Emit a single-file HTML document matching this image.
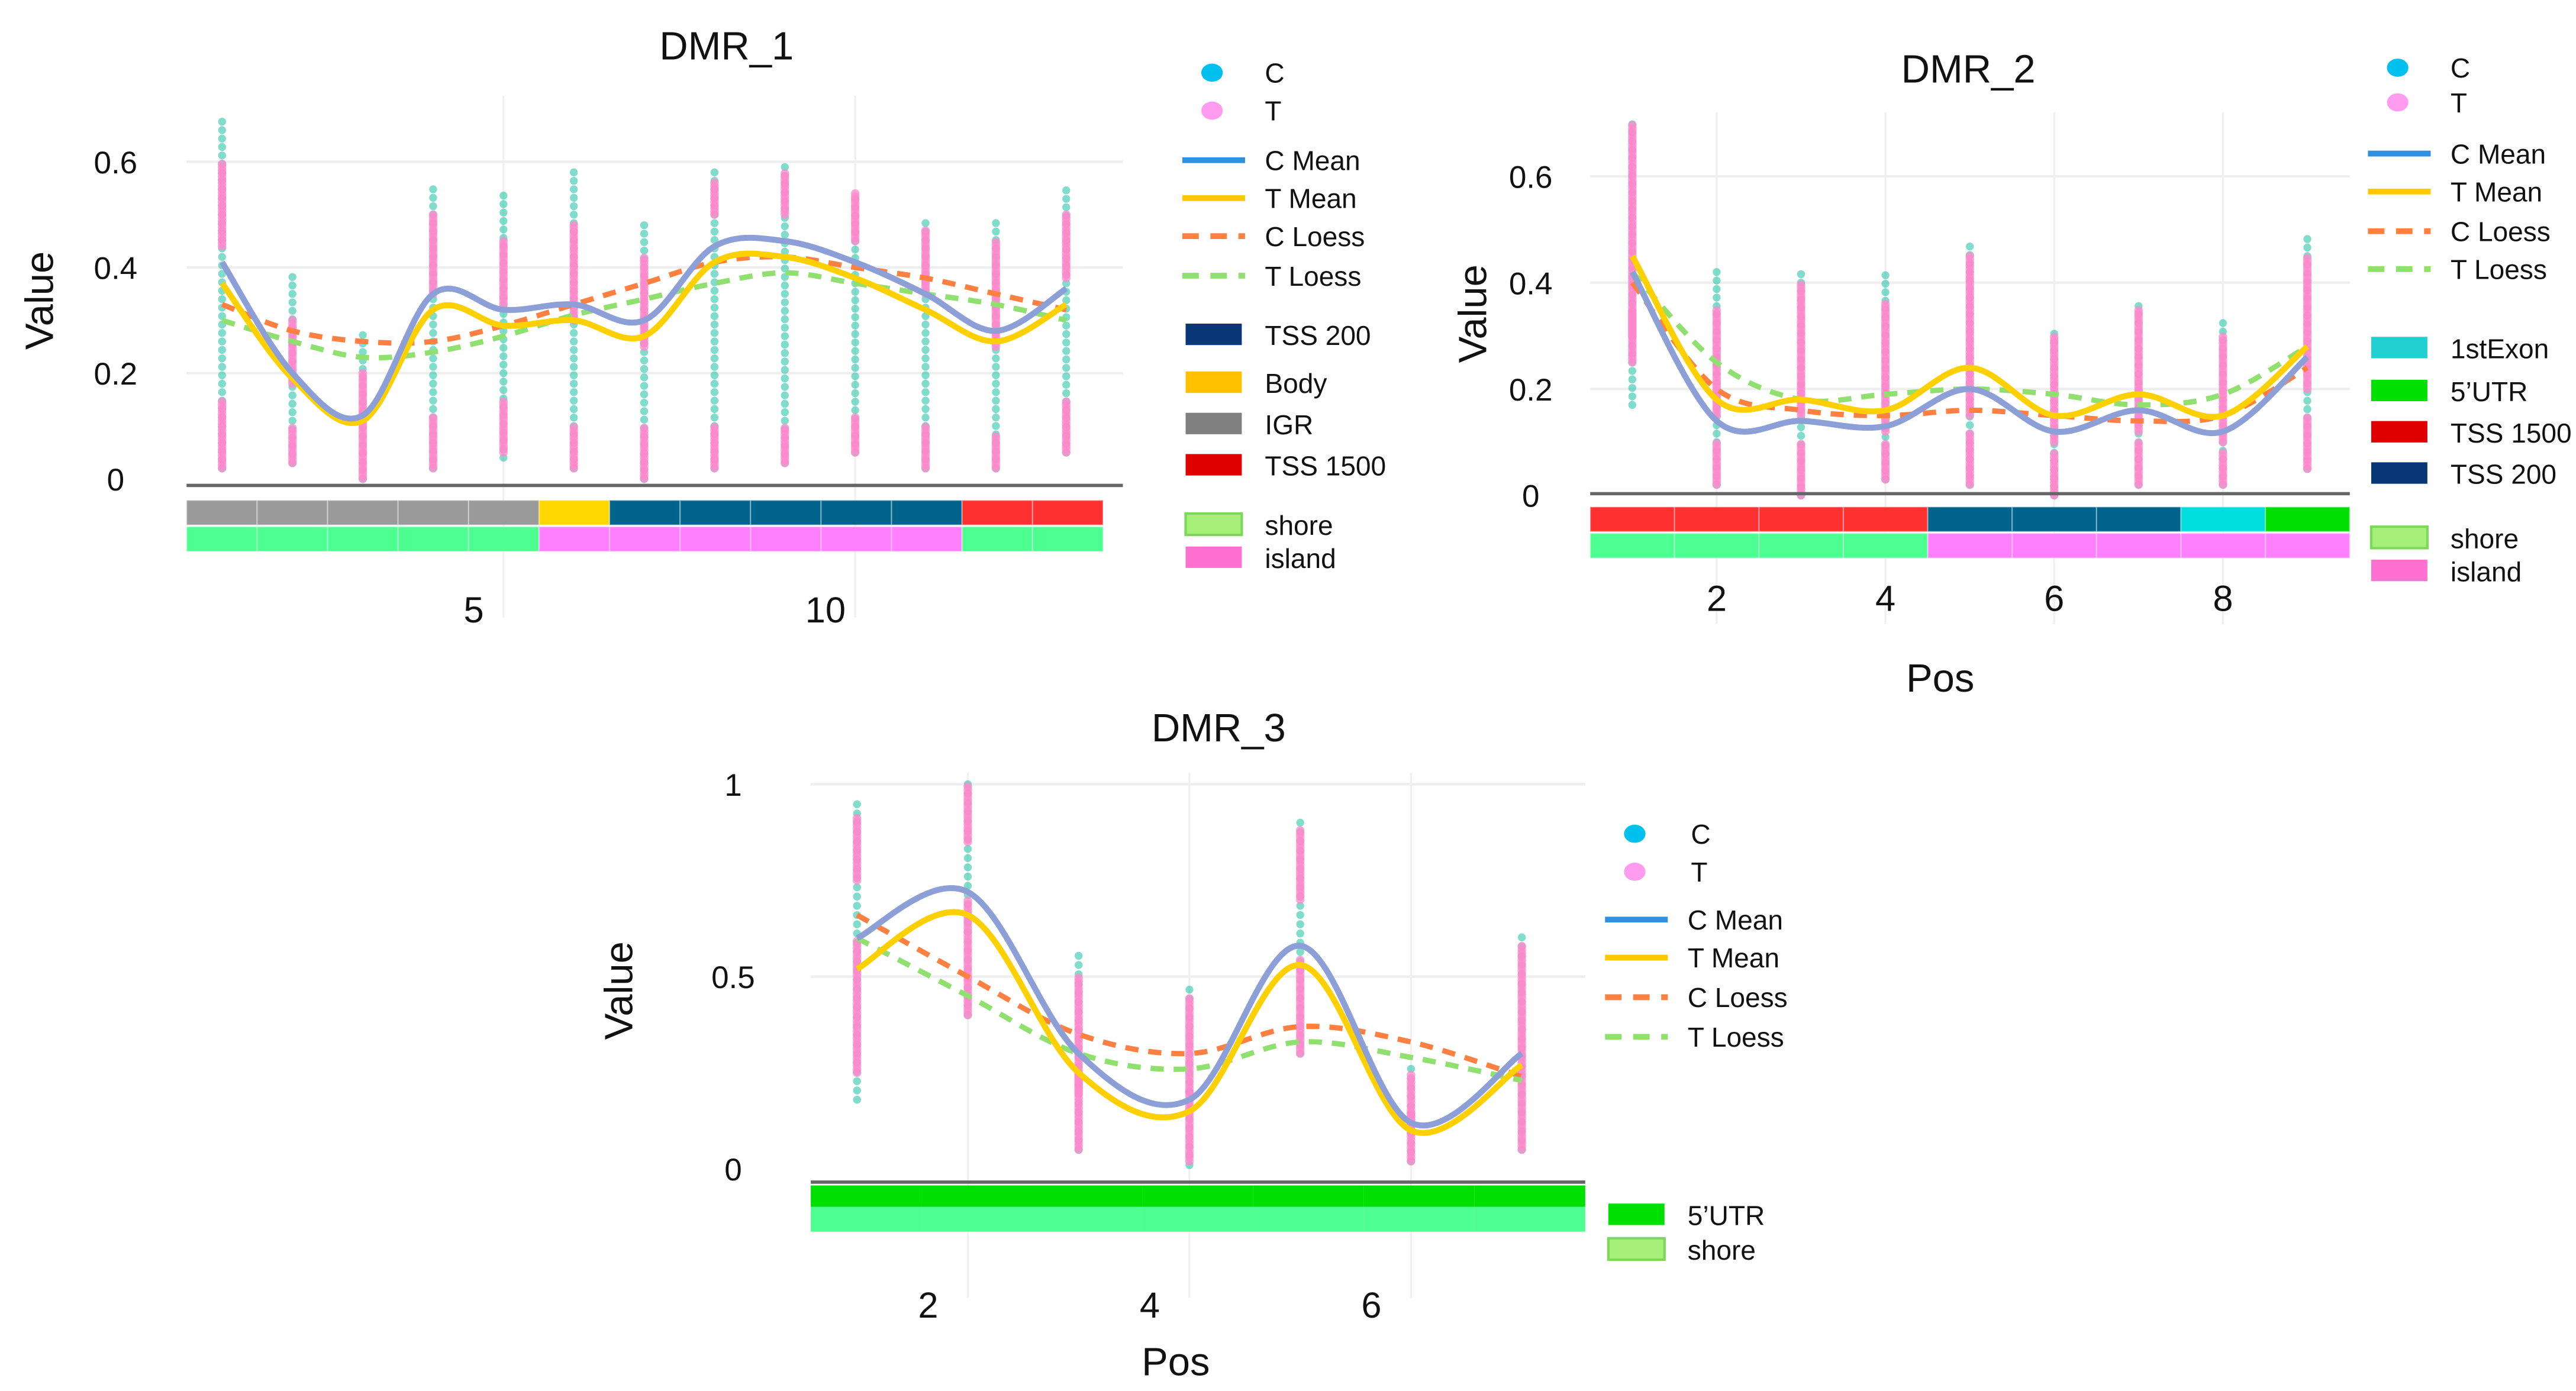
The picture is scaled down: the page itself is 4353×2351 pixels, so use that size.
<!DOCTYPE html>
<html><head><meta charset="utf-8"><style>
html,body{margin:0;padding:0;background:#fff;}
svg{display:block;font-family:"Liberation Sans",sans-serif;}
</style></head><body>
<svg id="fig" width="4353" height="2351" viewBox="0 0 1560 842.5" xmlns="http://www.w3.org/2000/svg">
<rect width="1560" height="842.5" fill="#fff"/>
</svg>
<script>
// ---------- DMR_1 data ----------
const d1Pos = [1,2,3,4,5,6,7,8,9,10,11,12,13];
const d1CMean = [0.41,0.20,0.12,0.35,0.32,0.33,0.30,0.44,0.45,0.41,0.35,0.28,0.36];
const d1TMean = [0.37,0.19,0.11,0.32,0.29,0.30,0.27,0.41,0.42,0.38,0.32,0.26,0.33];
const d1CLoess = [0.33,0.28,0.26,0.26,0.29,0.33,0.37,0.41,0.42,0.40,0.38,0.35,0.32];
const d1TLoess = [0.30,0.26,0.23,0.24,0.27,0.31,0.34,0.37,0.39,0.37,0.35,0.33,0.30];
const d1CMin = [0.02,0.03,0.00,0.02,0.04,0.02,0.00,0.02,0.03,0.05,0.02,0.02,0.05];
const d1CMax = [0.68,0.39,0.28,0.56,0.55,0.58,0.48,0.58,0.60,0.54,0.49,0.49,0.55];
const d1THiMin = [0.44,0.18,0.05,0.35,0.33,0.30,0.25,0.50,0.50,0.45,0.35,0.25,0.38];
const d1THiMax = [0.60,0.30,0.20,0.50,0.45,0.48,0.42,0.56,0.58,0.54,0.47,0.45,0.50];
const d1TLoMin = [0.02,0.03,0.00,0.02,0.05,0.02,0.00,0.02,0.03,0.05,0.02,0.02,0.05];
const d1TLoMax = [0.15,0.10,0.05,0.12,0.15,0.10,0.10,0.10,0.10,0.12,0.10,0.08,0.15];
const d1Ticks = [5,10];
const d1YTicks = [0,0.2,0.4,0.6];
const d1Row1 = ["IGR","IGR","IGR","IGR","IGR","Body","TSS200","TSS200","TSS200","TSS200","TSS200","TSS1500","TSS1500"];
const d1Row2 = ["shore","shore","shore","shore","shore","island","island","island","island","island","island","shore","shore"];

// ---------- DMR_2 data ----------
const d2Pos = [1,2,3,4,5,6,7,8,9];
const d2CMean = [0.42,0.14,0.14,0.13,0.20,0.12,0.16,0.12,0.26];
const d2TMean = [0.45,0.18,0.18,0.16,0.24,0.15,0.19,0.15,0.28];
const d2CLoess = [0.40,0.20,0.16,0.15,0.16,0.15,0.14,0.15,0.24];
const d2TLoess = [0.42,0.25,0.18,0.19,0.20,0.19,0.17,0.19,0.28];
const d2CMin = [0.17,0.02,0.00,0.03,0.02,0.00,0.02,0.02,0.05];
const d2CMax = [0.70,0.43,0.43,0.42,0.48,0.31,0.36,0.33,0.49];
const d2THiMin = [0.30,0.15,0.15,0.12,0.15,0.10,0.12,0.10,0.20];
const d2THiMax = [0.70,0.35,0.40,0.36,0.45,0.30,0.35,0.30,0.45];
const d2TLoMin = [0.25,0.02,0.00,0.03,0.02,0.00,0.02,0.02,0.05];
const d2TLoMax = [0.35,0.10,0.10,0.10,0.12,0.08,0.10,0.08,0.15];
const d2Ticks = [2,4,6,8];
const d2YTicks = [0,0.2,0.4,0.6];
const d2Row1 = ["TSS1500","TSS1500","TSS1500","TSS1500","TSS200","TSS200","TSS200","1stExon","5UTR"];
const d2Row2 = ["shore","shore","shore","shore","island","island","island","island","island"];

// ---------- DMR_3 data ----------
const d3Pos = [1,2,3,4,5,6,7];
const d3CMean = [0.60,0.72,0.30,0.18,0.58,0.12,0.30];
const d3TMean = [0.52,0.66,0.25,0.15,0.53,0.10,0.27];
const d3CLoess = [0.66,0.50,0.35,0.30,0.37,0.33,0.24];
const d3TLoess = [0.60,0.45,0.30,0.26,0.33,0.29,0.23];
const d3CMin = [0.18,0.40,0.05,0.01,0.30,0.02,0.05];
const d3CMax = [0.97,1.00,0.56,0.47,0.90,0.28,0.62];
const d3THiMin = [0.75,0.85,0.20,0.20,0.70,0.10,0.30];
const d3THiMax = [0.92,1.00,0.50,0.45,0.88,0.25,0.58];
const d3TLoMin = [0.25,0.40,0.05,0.02,0.30,0.02,0.05];
const d3TLoMax = [0.60,0.70,0.25,0.20,0.55,0.15,0.30];
const d3Ticks = [2,4,6];
const d3YTicks = [0,0.5,1];
const d3Row1 = ["5UTR","5UTR","5UTR","5UTR","5UTR","5UTR","5UTR"];
const d3Row2 = ["shore","shore","shore","shore","shore","shore","shore"];

const annoColors = {IGR:"#9a9a9a",Body:"#ffd700",TSS200:"#00648c",TSS1500:"#ff3030",shore:"#4cff90",island:"#ff80ff","1stExon":"#00dddd","5UTR":"#00e000"};

const NS = "http://www.w3.org/2000/svg";
const svg = document.getElementById('fig');
function mk(tag, attrs, parent){
  const e = document.createElementNS(NS, tag);
  for (const k in attrs) e.setAttribute(k, attrs[k]);
  (parent||svg).appendChild(e);
  return e;
}
function smooth(pts){
  let d = "M"+pts[0][0]+","+pts[0][1];
  for (let i=0;i<pts.length-1;i++){
    const p0=pts[Math.max(0,i-1)],p1=pts[i],p2=pts[i+1],p3=pts[Math.min(pts.length-1,i+2)];
    const c1=[p1[0]+(p2[0]-p0[0])/6,p1[1]+(p2[1]-p0[1])/6];
    const c2=[p2[0]-(p3[0]-p1[0])/6,p2[1]-(p3[1]-p1[1])/6];
    d+=" C"+c1[0]+","+c1[1]+" "+c2[0]+","+c2[1]+" "+p2[0]+","+p2[1];
  }
  return d;
}

function drawChart(c){
  const g = mk('g',{});
  
  
  const x = p => c.x0 + (p - 1) * c.dx;
  const y = v => c.y0 - v * c.ky;
  // title
  const t = mk('text',{x:c.titleX,y:c.titleY,'font-size':24,'text-anchor':'middle',fill:'#111'},g);
  t.textContent = c.title;
  
  
  // grid
  c.yTicks.forEach(v=>{
    if (v>0){ const l=mk('line',{x1:c.left,x2:c.right,y1:y(v),y2:y(v),stroke:'#eeeeee','stroke-width':1.5},g);
        }
    const tl = mk('text',{x:c.yLabX,y:y(v)+7,'font-size':19,'text-anchor':'middle',fill:'#111'},g);
    tl.textContent = String(v);
    
    
  });
  c.xTicks.forEach(p=>{
    const l=mk('line',{x1:x(p),x2:x(p),y1:c.gridTop,y2:c.annoBottom+40,stroke:'#f0f0f0','stroke-width':1.2},g);
     
    const tl = mk('text',{x:x(p)+c.xLabOff,y:c.xLabY,'font-size':22,'text-anchor':'middle',fill:'#111'},g);
    tl.textContent = String(p);
    
    
  });
  // y title
  const yt = mk('text',{x:c.yTitleX,y:c.yTitleY,'font-size':24,'text-anchor':'middle',fill:'#111',transform:`rotate(-90 ${c.yTitleX} ${c.yTitleY})`},g);
  yt.textContent='Value';
  
  
  if (c.xTitle){
    const xt = mk('text',{x:c.xTitleX,y:c.xTitleY,'font-size':24,'text-anchor':'middle',fill:'#111'},g);
    xt.textContent='Pos';
    
    
  }
  // points
  c.pos.forEach((p,i)=>{
    for (let v=c.cMin[i]; v<=c.cMax[i]+1e-9; v+=c.step*1.6){
      const d=mk('circle',{cx:x(p),cy:y(v),r:2.4,fill:'#2cc4a8','fill-opacity':0.6},g);
       
    }
    for (let v=c.tLoMin[i]; v<=c.tLoMax[i]+1e-9; v+=c.step*0.6){
      const d=mk('circle',{cx:x(p),cy:y(v),r:2.6,fill:'#ff88cc','fill-opacity':0.75},g);
       
    }
    for (let v=c.tHiMin[i]; v<=c.tHiMax[i]+1e-9; v+=c.step*0.6){
      const d=mk('circle',{cx:x(p),cy:y(v),r:2.6,fill:'#ff88cc','fill-opacity':0.75},g);
       
    }
  });
  // curves
  const series = [
    [c.cLoess,'#ff8040','8 6',3.2,'c-loess-line'],
    [c.tLoess,'#90e070','8 6',3.2,'t-loess-line'],
    [c.tMean,'#ffd000',null,3.6,'t-mean-line'],
    [c.cMean,'#8c9fd6',null,3.6,'c-mean-line']
  ];
  series.forEach(s=>{
    const pts = c.pos.map((p,i)=>[x(p),y(s[0][i])]);
    const a={d:smooth(pts),fill:'none',stroke:s[1],'stroke-width':s[3]};
    if (s[2]) a['stroke-dasharray']=s[2];
    const pth=mk('path',a,g);
     
  });
  // axis line
  const al = mk('line',{x1:c.left,x2:c.right,y1:c.axisY,y2:c.axisY,stroke:'#666','stroke-width':2},g);
   
  // annotation rows
  const n = c.pos.length, w = (c.annoRight-c.left)/n;
  [[c.row1,c.r1y,c.r1h],[c.row2,c.r2y,c.r2h]].forEach((r,ri)=>{
    r[0].forEach((k,i)=>{
      const rc=mk('rect',{x:c.left+i*w,y:r[1],width:w,height:r[2],fill:annoColors[k],stroke:c.cellStroke?'#ffffff':'none','stroke-opacity':0.35,'stroke-width':0.8},g);
      
      
    });
  });
  // legend
  const L = c.legend;
  const lg = mk('g',{},g);
   
  L.items.forEach(it=>{
    let m;
    if (it.type==='dot') m=mk('ellipse',{cx:L.mx+18,cy:it.y,rx:6.5,ry:5.5,fill:it.color},lg);
    else if (it.type==='line') m=mk('line',{x1:L.mx,x2:L.mx+38,y1:it.y,y2:it.y,stroke:it.color,'stroke-width':3.5,'stroke-dasharray':it.dash||'none'},lg);
    else m=mk('rect',{x:L.mx+2,y:it.y-7,width:34,height:13,fill:it.color,stroke:it.border||'none','stroke-width':1.5},lg);
     
    const tx=mk('text',{x:it.type==='dot'?L.dotTx:L.tx,y:it.y+6,'font-size':16.5,fill:'#111'},lg);
    tx.textContent=it.label;
     
  });
}
function legendItems(ys, annos){
  const base=[
    {type:'dot',color:'#00c0f0',label:'C',y:ys[0]},
    {type:'dot',color:'#ff9cf0',label:'T',y:ys[1]},
    {type:'line',color:'#3090e0',label:'C Mean',y:ys[2]},
    {type:'line',color:'#ffc800',label:'T Mean',y:ys[3]},
    {type:'line',color:'#ff8040',dash:'10 7',label:'C Loess',y:ys[4]},
    {type:'line',color:'#90e070',dash:'10 7',label:'T Loess',y:ys[5]}
  ];
  return base.concat(annos);
}

drawChart({name:'dmr-1-chart',title:'DMR_1',titleX:440,titleY:36,pos:d1Pos,
  cMean:d1CMean,tMean:d1TMean,cLoess:d1CLoess,tLoess:d1TLoess,cMin:d1CMin,cMax:d1CMax,
  tHiMin:d1THiMin,tHiMax:d1THiMax,tLoMin:d1TLoMin,tLoMax:d1TLoMax,
  xTicks:d1Ticks,yTicks:d1YTicks,row1:d1Row1,row2:d1Row2,
  x0:134.5,dx:42.6,y0:290,ky:320,step:0.01,left:113,right:680,annoRight:668,axisY:294,gridTop:58,annoBottom:334,
  r1y:303,r1h:15,r2y:319,r2h:15,cellStroke:true,yLabX:70,xLabOff:-18,xLabY:377,yTitleX:32,yTitleY:182,
  legend:{mx:716,tx:766,dotTx:766,items:legendItems([44,67,97,120,143,167],[
    {type:'rect',color:'#0a3778',label:'TSS 200',y:203},
    {type:'rect',color:'#ffc000',label:'Body',y:232},
    {type:'rect',color:'#808080',label:'IGR',y:257},
    {type:'rect',color:'#e00000',label:'TSS 1500',y:282},
    {type:'rect',color:'#a6f07a',border:'#7cd858',label:'shore',y:318},
    {type:'rect',color:'#ff70d0',label:'island',y:338}])}
});

drawChart({name:'dmr-2-chart',title:'DMR_2',titleX:1192,titleY:50,pos:d2Pos,
  cMean:d2CMean,tMean:d2TMean,cLoess:d2CLoess,tLoess:d2TLoess,cMin:d2CMin,cMax:d2CMax,
  tHiMin:d2THiMin,tHiMax:d2THiMax,tLoMin:d2TLoMin,tLoMax:d2TLoMax,
  xTicks:d2Ticks,yTicks:d2YTicks,row1:d2Row1,row2:d2Row2,
  x0:988.5,dx:51.1,y0:300,ky:322,step:0.01,left:963,right:1423,annoRight:1423,axisY:299,gridTop:68,annoBottom:338,
  r1y:307,r1h:15,r2y:323,r2h:15,cellStroke:true,yLabX:927,xLabOff:0,xLabY:370,yTitleX:900,yTitleY:190,
  xTitle:true,xTitleX:1175,xTitleY:419,
  legend:{mx:1434,tx:1484,dotTx:1484,items:legendItems([41,62,93,116,140,163],[
    {type:'rect',color:'#20d0d0',label:'1stExon',y:211},
    {type:'rect',color:'#00e000',label:'5’UTR',y:237},
    {type:'rect',color:'#e00000',label:'TSS 1500',y:262},
    {type:'rect',color:'#0a3778',label:'TSS 200',y:287},
    {type:'rect',color:'#a6f07a',border:'#7cd858',label:'shore',y:326},
    {type:'rect',color:'#ff70d0',label:'island',y:346}])}
});

drawChart({name:'dmr-3-chart',title:'DMR_3',titleX:738,titleY:449,pos:d3Pos,
  cMean:d3CMean,tMean:d3TMean,cLoess:d3CLoess,tLoess:d3TLoess,cMin:d3CMin,cMax:d3CMax,
  tHiMin:d3THiMin,tHiMax:d3THiMax,tLoMin:d3TLoMin,tLoMax:d3TLoMax,
  xTicks:d3Ticks,yTicks:d3YTicks,row1:d3Row1,row2:d3Row2,
  x0:519,dx:67.1,y0:708,ky:233,step:0.015,left:491,right:960,annoRight:960,axisY:716,gridTop:468,annoBottom:746,
  r1y:718,r1h:13,r2y:731,r2h:15,cellStroke:false,yLabX:444,xLabOff:-24,xLabY:798,yTitleX:383,yTitleY:600,
  xTitle:true,xTitleX:712,xTitleY:833,
  legend:{mx:972,tx:1022,dotTx:1024,items:legendItems([505,528,557,580,604,628],[
    {type:'rect',color:'#00e000',label:'5’UTR',y:736},
    {type:'rect',color:'#a6f07a',border:'#7cd858',label:'shore',y:757}])}
});
</script>
</body></html>
